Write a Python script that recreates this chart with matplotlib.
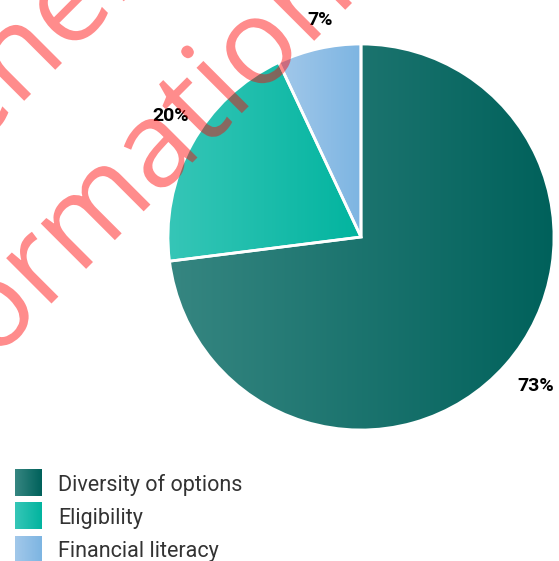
import numpy as np
import matplotlib
matplotlib.use("Agg")
import matplotlib.pyplot as plt
import matplotlib.transforms as mtransforms
from matplotlib.colors import LinearSegmentedColormap
from matplotlib.textpath import TextPath
from matplotlib.patches import PathPatch
from matplotlib.font_manager import FontProperties

# Shares of respondents (%)
categories = ["Diversity of options", "Eligibility", "Financial literacy"]
values = [73, 20, 7]
pct_labels = ["73%", "20%", "7%"]

# left -> right gradient colours for each slice
grad_colors = [
    ("#368681", "#00615b"),
    ("#36c6b7", "#02b49f"),
    ("#a2c8ea", "#7db5e2"),
]

W, H = 559, 561
cx, cy, r = 361, 237, 193

fig = plt.figure(figsize=(W / 100, H / 100), dpi=100)
ax = fig.add_axes([0, 0, 1, 1])

wedges, texts = ax.pie(
    values,
    labels=pct_labels,
    startangle=90,
    counterclock=False,
    labeldistance=1.17,
    wedgeprops=dict(edgecolor="white", linewidth=2),
    textprops=dict(fontsize=14, fontweight="bold", color="black",
                   family=["Roboto", "DejaVu Sans"]),
)

for w, (c0, c1) in zip(wedges, grad_colors):
    bb = w.get_path().get_extents()
    cmap = LinearSegmentedColormap.from_list("g", [c0, c1])
    grad = np.linspace(0, 1, 256).reshape(1, -1)
    im = ax.imshow(grad, extent=[bb.x0, bb.x1, bb.y0, bb.y1], cmap=cmap,
                   aspect="auto", zorder=1, interpolation="bilinear")
    im.set_clip_path(w)
    w.set_facecolor("none")
    w.set_zorder(2)

# small nudges (pixels) so labels sit where the original puts them
nudges = [(5, 0), (8, 12), (8, -3)]
for t, (dx, dy) in zip(texts, nudges):
    t.set_ha("center")
    t.set_va("center")
    t.set_transform(t.get_transform() + mtransforms.ScaledTranslation(dx / 100, dy / 100, fig.dpi_scale_trans))

ax.set_xlim(-cx / r, (W - cx) / r)
ax.set_ylim(-(H - cy) / r, cy / r)
ax.set_aspect("auto")
ax.axis("off")

# legend in pixel coordinates
lax = fig.add_axes([0, 0, 1, 1], zorder=5)
lax.axis("off")
lax.patch.set_alpha(0)

for i, (name, (c0, c1)) in enumerate(zip(categories, grad_colors)):
    top = 469 + i * 33.5
    cmap = LinearSegmentedColormap.from_list("g", [c0, c1])
    lax.imshow(np.linspace(0, 1, 64).reshape(1, -1), extent=[15, 42, top + 27, top],
               cmap=cmap, aspect="auto", interpolation="bilinear")
    lax.text(58, top + 16, name, fontsize=15.5, color="#333333", va="center",
             ha="left", family=["Roboto", "DejaVu Sans"])

lax.set_xlim(0, W)
lax.set_ylim(H, 0)

# diagonal watermark, sized so "rmation" spans about 425 px
fp = FontProperties(family="Open Sans")
ref = TextPath((0, 0), "rmation", size=100, prop=fp).get_extents()
size = 100 * 425 / ref.width


def watermark(text, anchor_part, x, y):
    path = TextPath((0, 0), text, size=size, prop=fp)
    end = TextPath((0, 0), anchor_part, size=size, prop=fp).get_extents().x1
    tr = (mtransforms.Affine2D().translate(-end, 0)
          .rotate_deg(45).translate(x, H - y))
    fig.patches.append(PathPatch(tr.transform_path(path), facecolor="red",
                                 edgecolor="none", alpha=0.45,
                                 transform=mtransforms.IdentityTransform(),
                                 figure=fig, zorder=20))


watermark("information only", "information", 352, 3)
watermark("For general", "For gen", 62, 63)

fig.savefig("out.png", dpi=100)
